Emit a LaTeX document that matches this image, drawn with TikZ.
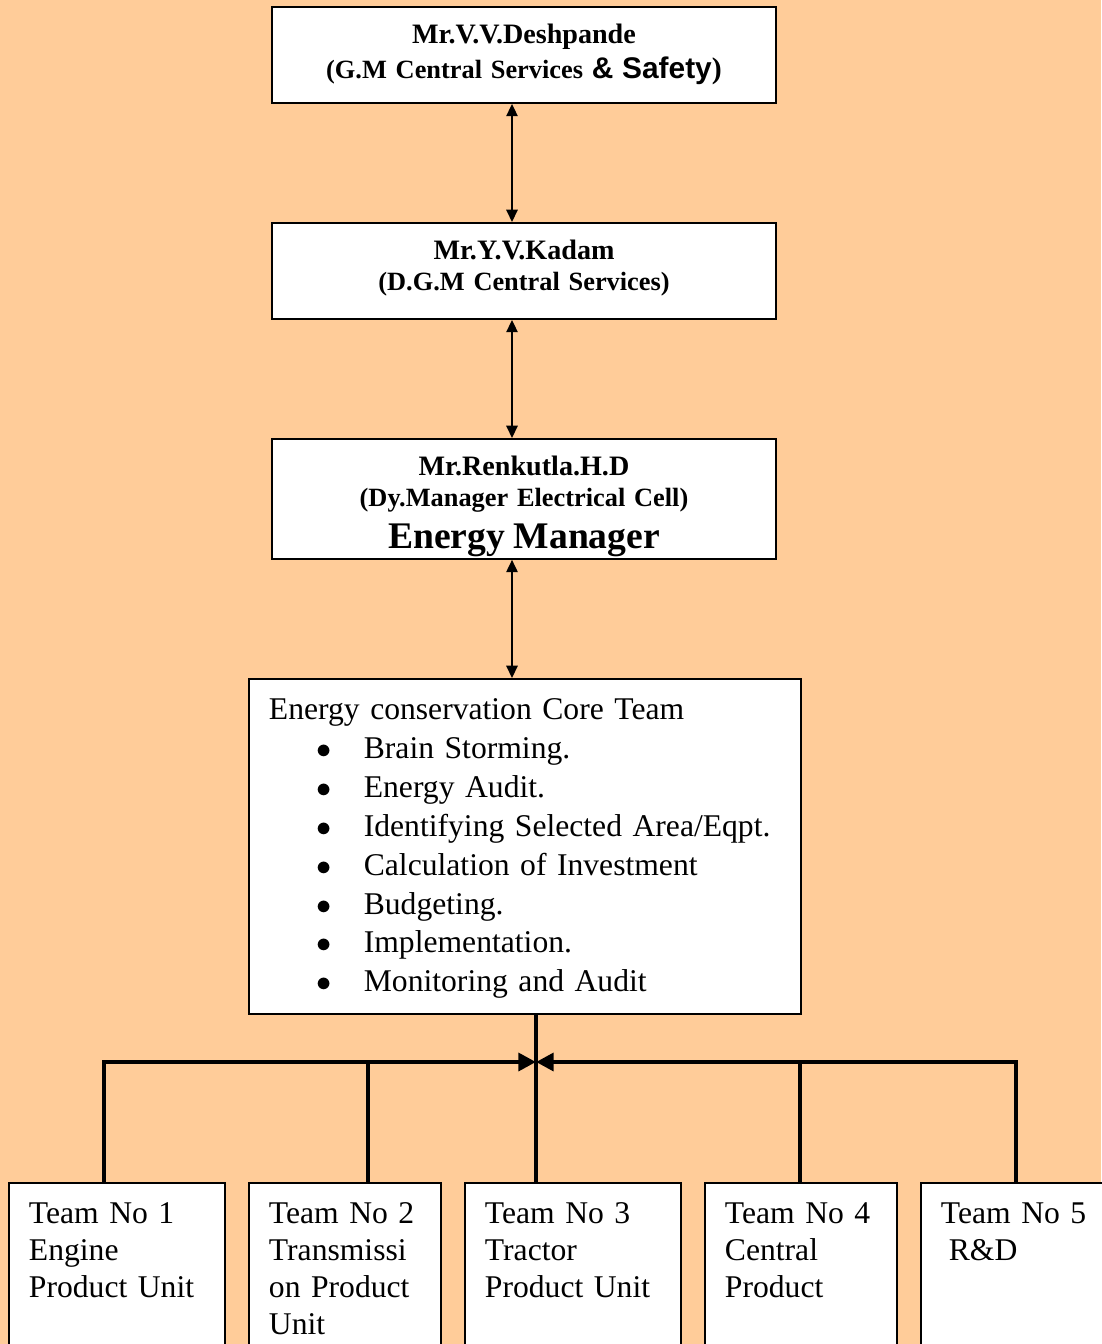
\documentclass[tikz,border=0pt]{standalone}
\usepackage{fontspec}
\setmainfont{Liberation Serif}
\newfontfamily\headsans{Liberation Sans}
\usetikzlibrary{arrows.meta}
\definecolor{bgpeach}{RGB}{255,204,153}
\newcommand{\bul}{\hspace*{27pt}\makebox[27pt][l]{$\bullet$}}
\newcommand{\namefont}{\fontsize{16}{17.6}\selectfont}

\begin{document}
\begin{tikzpicture}[x=0.02cm, y=-0.02cm,
    headbox/.style={draw, line width=1.1pt, fill=white, anchor=north, align=center,
      text width=9.68cm, inner xsep=0.2cm, inner ysep=0.34cm,
      font=\fontsize{15}{17.6}\selectfont\bfseries},
    corebox/.style={draw, line width=1.1pt, fill=white, anchor=north west, align=left,
      text width=10.24cm, inner xsep=0.4cm, inner ysep=0.4cm, text depth=155.9pt,
      font=\fontsize{18}{22.1}\selectfont},
    teambox/.style={draw, line width=1.1pt, fill=white, anchor=north west, align=left,
      inner xsep=0.4cm, inner ysep=0.4cm, text depth=4cm,
      font=\fontsize{18}{21}\selectfont},
    link/.style={line width=0.85pt, {Triangle[length=7pt,width=6.5pt]}-{Triangle[length=7pt,width=6.5pt]}},
    branch/.style={line width=2.8pt},
    tip/.style={-{Triangle[length=10pt,width=10pt]}}]

   \useasboundingbox (0,0) rectangle (1101,1344);
   \fill[bgpeach] (0,0) rectangle (1101,1344);

   \node[headbox, text depth=24.2pt] (gm)  at (524,6)  {{\namefont Mr.V.V.Deshpande}\\[2.2pt]
      (G.M Central Services {\fontsize{17}{20}\selectfont\headsans\&~Safety\rmfamily)}};
   \node[headbox, text depth=24.2pt] (dgm) at (524,222) {{\namefont Mr.Y.V.Kadam}\\(D.G.M Central Services)};
   \node[headbox, text depth=37.8pt] (em)  at (524,438) {{\namefont Mr.Renkutla.H.D}\\(Dy.Manager Electrical Cell)\\[6.4pt]
      {\fontsize{21.4}{25}\selectfont Energy Manager}};

   \node[corebox] (core) at (248,678) {Energy conservation Core Team\\
      \bul Brain Storming.\\
      \bul Energy Audit.\\
      \bul Identifying Selected Area/Eqpt.\\
      \bul Calculation of Investment\\
      \bul Budgeting.\\
      \bul Implementation.\\
      \bul Monitoring and Audit};

   \node[teambox, text width=3.52cm] (t1) at (8,1182)   {Team No 1\\Engine\\Product Unit};
   \node[teambox, text width=3.04cm] (t2) at (248,1182) {Team No 2\\Transmissi\\on Product\\Unit};
   \node[teambox, text width=3.52cm] (t3) at (464,1182) {Team No 3\\Tractor\\Product Unit};
   \node[teambox, text width=3.04cm] (t4) at (704,1182) {Team No 4\\Central\\Product};
   \node[teambox, text width=3.20cm] (t5) at (920,1182) {Team No 5\\\hspace*{0.25em}R\&D};

   \coordinate (ax)  at (512,0);
   \coordinate (hub) at (536,1062);
   \coordinate (j1)  at (104,1062);
   \coordinate (j2)  at (368,1062);
   \coordinate (j4)  at (800,1062);
   \coordinate (j5)  at (1016,1062);

   \draw[link] (gm.south -| ax) -- (dgm.north -| ax);
   \draw[link] (dgm.south -| ax) -- (em.north -| ax);
   \draw[link] (em.south -| ax) -- (core.north -| ax);

   \draw[branch] (core.south -| hub) -- (t3.north -| hub);
   \draw[branch,tip] (j1 |- t1.north) -- (j1) -- (hub);
   \draw[branch,tip] (j5 |- t5.north) -- (j5) -- (hub);
   \draw[branch] (j2) -- (j2 |- t2.north);
   \draw[branch] (j4) -- (j4 |- t4.north);
\end{tikzpicture}
\end{document}
